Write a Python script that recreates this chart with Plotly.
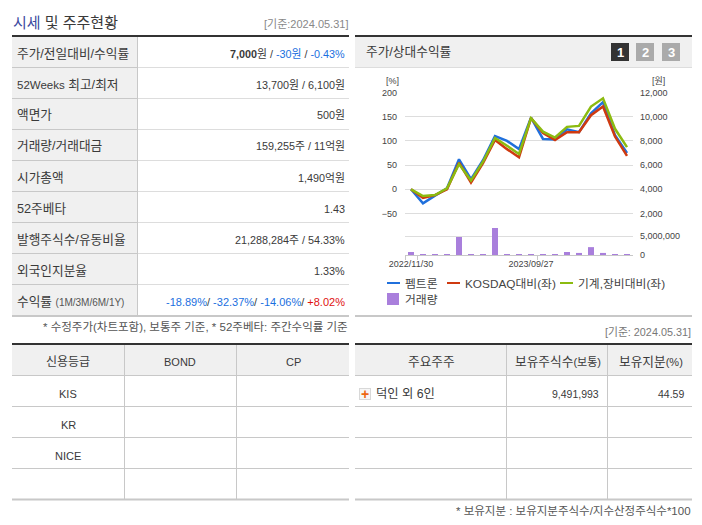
import plotly.graph_objects as go

W, H = 702, 525
FONT = "Liberation Sans, Noto Sans CJK KR, sans-serif"

# 차트 데이터 (월별)
period_idx = list(range(19))
date_ticks = [0, 10]
date_labels = ["2022/11/30", "2023/09/27"]
price = [4000, 2840, 3480, 4080, 6480, 4840, 6400, 8400, 8000, 7320, 9920,
         8160, 8120, 8960, 8720, 10280, 11200, 8480, 7000]
kosdaq_rel = [0, -18, -12, 0, 55, 14, 54, 102, 83, 66, 147, 116, 102, 118, 118, 153, 171, 109, 69]
machine_rel = [0, -14, -12, 2, 52, 18, 57, 106, 90, 73, 147, 119, 107, 129, 131, 171, 188, 125, 87]
volume = [800000, 50000, 250000, 250000, 4800000, 250000, 250000, 7200000, 250000, 50000,
          250000, 250000, 250000, 800000, 550000, 2100000, 550000, 250000, 250000]

pct_ticks = [-50, 0, 50, 100, 150, 200]
price_ticks = [2000, 4000, 6000, 8000, 10000, 12000]
vol_ticks = [0, 5000000, 10400000]
vol_tick_text = ["0", "5,000,000", ""]

series_names = ["펨트론", "KOSDAQ대비(좌)", "기계,장비대비(좌)", "거래량"]

# 표 데이터
quote_labels = ["주가/전일대비/수익률", "<span style='font-size:11.5px'>52Weeks</span> 최고/최저", "액면가",
                "거래량/거래대금", "시가총액", "52주베타", "발행주식수/유동비율", "외국인지분율"]
quote_values = [
    "<b>7,000</b>원 / <span style='color:#1a6fe0'>-30원</span> / <span style='color:#1a6fe0'>-0.43%</span>",
    "13,700원 / 6,100원", "500원", "159,255주 / 11억원", "1,490억원", "1.43",
    "21,288,284주 / 54.33%", "1.33%",
]
return_values = ("<span style='color:#1a6fe0'>-18.89%</span>/ <span style='color:#1a6fe0'>-32.37%</span>/ "
                 "<span style='color:#1a6fe0'>-14.06%</span>/ <span style='color:#e01010'>+8.02%</span>")
credit_head = ["신용등급", "BOND", "CP"]
credit_rows = ["KIS", "KR", "NICE"]
holder_head = ["주요주주", "보유주식수<span style='font-size:11px'>(보통)</span>", "보유지분<span style='font-size:11px'>(%)</span>"]

BLUE, RED, GREEN, PURPLE = "#2070dc", "#cf3a10", "#8cbb10", "#a97fdc"
DARK, GRAY_BG, LINE, LINE2 = "#333333", "#f0f0f0", "#c8c8c8", "#dddddd"
TEXT = "#3a3a3a"

shapes = []
notes = []


def rect(x0, y0, x1, y1, color):
    shapes.append(dict(type="rect", xref="paper", yref="paper", x0=x0 / W, x1=x1 / W,
                       y0=1 - y0 / H, y1=1 - y1 / H, fillcolor=color, line_width=0, layer="below"))


def label(x, y, text, anchor="left", size=12.5, color=TEXT):
    # 글자 세로 중심이 살짝 위로 올라가서 1.5px 내림
    notes.append(dict(x=x / W, y=1 - (y + 1.5) / H, xref="paper", yref="paper", text=text, showarrow=False,
                      xanchor=anchor, yanchor="middle", borderpad=0,
                      font=dict(size=size, color=color, family=FONT)))


# 왼쪽 위 시세 표
label(12, 21, "<span style='color:#3b4aa0'>시세</span> 및 주주현황", size=15)
label(349, 22, "[기준:2024.05.31]", "right", 11, "#888888")
rect(12, 35, 349, 37, DARK)
rect(12, 37, 137, 315, GRAY_BG)
row_bottoms = [67.5, 98.5, 129.5, 160.5, 191.5, 222.5, 253.5, 284.5]
row_tops = [37] + row_bottoms[:-1]
for i, yb in enumerate(row_bottoms):
    rect(137, yb - 0.5, 349, yb + 0.5, LINE2)
    rect(12, yb - 0.5, 137, yb + 0.5, LINE)
    yc = (row_tops[i] + yb) / 2
    label(16, yc, quote_labels[i], size=12.7)
    label(345.5, yc, quote_values[i], "right", 10.8)
label(16, 300, "수익률 <span style='font-size:10px;color:#555555'>(1M/3M/6M/1Y)</span>", size=12.7)
label(345.5, 300, return_values, "right", 11)
rect(137, 37, 138, 315, LINE)
rect(12, 315, 349, 317, LINE)
label(349, 325, "* 수정주가(차트포함), 보통주 기준, * 52주베타: 주간수익률 기준", "right", 11.5, "#555555")

# 오른쪽 차트 영역
rect(355, 35, 692, 37, DARK)
rect(355, 37, 692, 67, GRAY_BG)
rect(355, 67, 692, 68, LINE2)
label(365, 51, "주가/상대수익률", size=12.7)
for x0, num, col in [(611, "1", DARK), (636, "2", "#aaaaaa"), (662, "3", "#aaaaaa")]:
    rect(x0, 43, x0 + 18, 61, col)
    label(x0 + 9, 50.5, "<b>%s</b>" % num, "center", 13, "#ffffff")
label(392, 79, "[%]", "center", 9, "#444444")
label(658, 79, "[원]", "center", 9, "#444444")

# 범례
legend_y = [283, 283, 283, 299]
legend_x = [387, 447, 560, 387]
legend_col = [BLUE, RED, GREEN, PURPLE]
for i, name in enumerate(series_names):
    if name == "거래량":
        rect(legend_x[i], legend_y[i] - 6, legend_x[i] + 12, legend_y[i] + 6, legend_col[i])
    else:
        rect(legend_x[i], legend_y[i] - 1, legend_x[i] + 13, legend_y[i] + 1, legend_col[i])
    label(legend_x[i] + 17, legend_y[i] - 1, name, size=11.8, color="#444444")
rect(355, 315, 692, 317, LINE)
label(692, 330, "[기준: 2024.05.31]", "right", 10.8, "#777777")

# 아래 표
row_lines = [375.5, 406.5, 437.5, 468.5]
for x0, x1, cols in [(12, 349, [124.5, 236.5]), (355, 692, [506.5, 607.5])]:
    rect(x0, 343, x1, 345, DARK)
    rect(x0, 345, x1, 375, GRAY_BG)
    for yl in row_lines:
        rect(x0, yl - 0.5, x1, yl + 0.5, LINE)
    for xc in cols:
        rect(xc - 0.5, 345, xc + 0.5, 499, LINE)
    rect(x0, 498.5, x1, 500.5, LINE)

for xc, t, s in zip([68, 180, 293], credit_head, [12, 11, 11]):
    label(xc, 360, t, "center", s)
for yc, t in zip([392, 423, 454], credit_rows):
    label(68, yc, t, "center", 11)

for xc, t in zip([431, 558, 651], holder_head):
    label(xc, 360, t, "center", 12.7)
rect(359, 388, 371, 400, "#d8d8d8")
rect(360, 389, 370, 399, "#f6f6f6")
label(365, 392, "<b>+</b>", "center", 14, "#ee6611")
label(375, 392, "덕인 외 6인", size=12.3)
label(600, 392, "9,491,993", "right", 10.5)
label(685, 392, "44.59", "right", 10.5)
label(692, 509, "* 보유지분 : 보유지분주식수/지수산정주식수*100", "right", 11.5, "#555555")

fig = go.Figure()
fig.add_trace(go.Scatter(x=period_idx, y=price, name=series_names[0], mode="lines",
                         line=dict(color=BLUE, width=2.5), xaxis="x", yaxis="y"))
fig.add_trace(go.Scatter(x=period_idx, y=kosdaq_rel, name=series_names[1], mode="lines",
                         line=dict(color=RED, width=2.5), xaxis="x", yaxis="y2"))
fig.add_trace(go.Scatter(x=period_idx, y=machine_rel, name=series_names[2], mode="lines",
                         line=dict(color=GREEN, width=2.5), xaxis="x", yaxis="y2"))
fig.add_trace(go.Bar(x=period_idx, y=volume, name=series_names[3], width=0.5,
                     marker=dict(color=PURPLE, line_width=0), xaxis="x2", yaxis="y3"))

x_dom = [405 / W, 633 / W]
top_dom = [1 - 216 / H, 1 - 92.5 / H]
tick_font = dict(size=9, color="#444444", family=FONT)

fig.update_layout(
    width=W, height=H, margin=dict(l=0, r=0, t=0, b=0, autoexpand=False), showlegend=False,
    paper_bgcolor="#ffffff", plot_bgcolor="rgba(0,0,0,0)",
    shapes=shapes, annotations=notes,
    xaxis=dict(domain=x_dom, range=[-0.5, 18.5], anchor="y", visible=False),
    xaxis2=dict(domain=x_dom, range=[-0.5, 18.5], anchor="y3", showgrid=False, zeroline=False,
                tickmode="array", tickvals=date_ticks, ticktext=date_labels, ticks="",
                showline=True, linecolor=LINE, linewidth=1, tickfont=tick_font,
                minor=dict(tickmode="array", tickvals=[-0.5, 0.5, 10.5], ticks="outside",
                           ticklen=4, tickcolor=LINE, tickwidth=1, showgrid=False)),
    yaxis=dict(domain=top_dom, range=[4000 - 55.2 * 40, 12000], side="right", anchor="x",
               tickmode="array", tickvals=price_ticks, tickformat=",", showgrid=False,
               zeroline=False, ticks="", tickfont=tick_font, ticklabelstandoff=6),
    yaxis2=dict(domain=top_dom, range=[-55.2, 200], side="left", overlaying="y", anchor="x",
                tickmode="array", tickvals=pct_ticks, showgrid=True, gridcolor=LINE2, gridwidth=1,
                zeroline=False, ticks="", tickfont=tick_font, ticklabelstandoff=7),
    yaxis3=dict(domain=[1 - 255 / H, 1 - 216 / H], range=[0, 10400000], side="right", anchor="x2",
                tickmode="array", tickvals=vol_ticks, ticktext=vol_tick_text, showgrid=True,
                gridcolor=LINE2, gridwidth=1, zeroline=False, ticks="", tickfont=tick_font,
                ticklabelstandoff=6),
)

fig.write_html("out.html", config={"displayModeBar": False},
               post_script="document.body.style.margin='0';document.body.style.overflow='hidden';")
